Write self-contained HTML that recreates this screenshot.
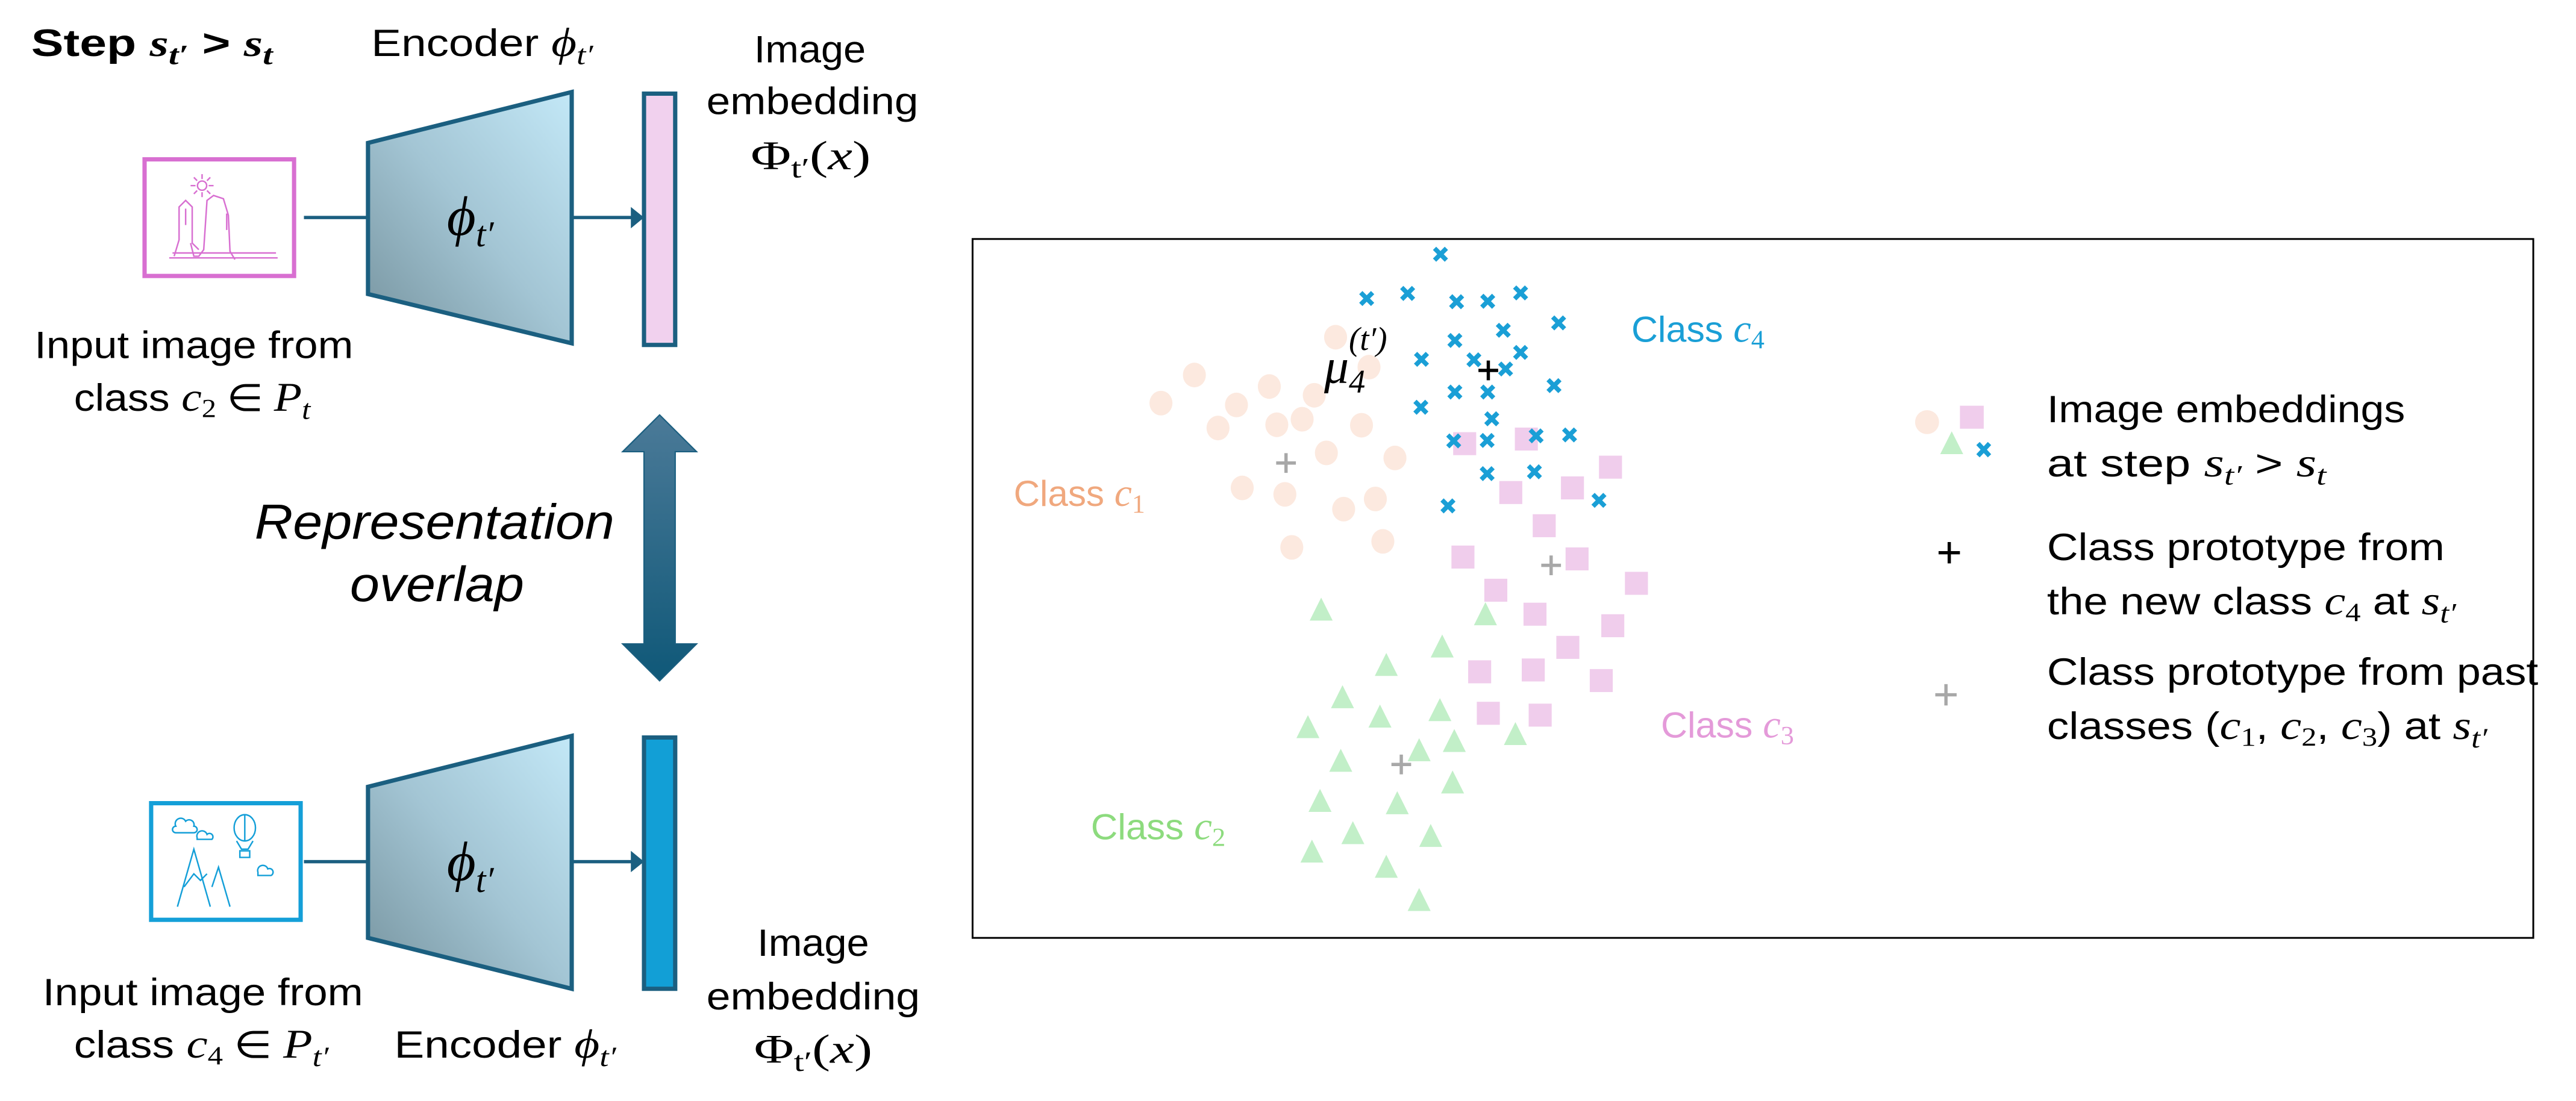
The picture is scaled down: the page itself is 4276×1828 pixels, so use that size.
<!DOCTYPE html>
<html><head><meta charset="utf-8">
<style>
html,body{margin:0;padding:0;background:#fff;}
svg{display:block;}
text{font-family:"Liberation Sans",sans-serif;}
.m{font-family:"Liberation Serif",serif;font-style:italic;}
.r{font-family:"Liberation Serif",serif;}
</style></head>
<body>
<svg id="fig" width="4276" height="1828" viewBox="0 0 1568 670.3" xmlns="http://www.w3.org/2000/svg">
<defs>
<linearGradient id="enc" x1="0" y1="1" x2="1" y2="0">
<stop offset="0" stop-color="#76939e"/><stop offset="0.5" stop-color="#a3c5d4"/><stop offset="1" stop-color="#c3e8f7"/>
</linearGradient>
<linearGradient id="darr" x1="0" y1="0" x2="0" y2="1">
<stop offset="0" stop-color="#4b7a98"/><stop offset="1" stop-color="#0f5878"/>
</linearGradient>
</defs>

<!-- ===== Top row ===== -->
<text x="19" y="34" font-size="23" font-weight="bold" textLength="147" lengthAdjust="spacingAndGlyphs">Step <tspan class="m">s</tspan><tspan class="m" font-size="17" dy="5">t′</tspan><tspan dy="-5"> &gt; </tspan><tspan class="m">s</tspan><tspan class="m" font-size="17" dy="5">t</tspan></text>
<text x="226" y="34" font-size="23" textLength="135" lengthAdjust="spacingAndGlyphs">Encoder <tspan class="m" font-size="25">ϕ</tspan><tspan class="m" font-size="17" dy="5">t′</tspan></text>
<g font-size="23">
<text x="459" y="38" textLength="68" lengthAdjust="spacingAndGlyphs">Image</text>
<text x="430" y="69.5" textLength="129" lengthAdjust="spacingAndGlyphs">embedding</text>
<text x="457" y="103" textLength="73" lengthAdjust="spacingAndGlyphs"><tspan class="r" font-size="25">Φ</tspan><tspan class="r" font-size="17" dy="5">t′</tspan><tspan class="r" font-size="25" dy="-5">(</tspan><tspan class="m" font-size="25">x</tspan><tspan class="r" font-size="25">)</tspan></text>
</g>

<g>
<rect x="88" y="97" width="91" height="71" fill="#fff" stroke="#d86fd1" stroke-width="2.6"/>
<g fill="none" stroke="#d86fd1" stroke-width="0.9">
<circle cx="123" cy="113" r="2.8"/>
<path d="M123 106v3M123 117v3M116 113h3M127 113h3M118 108l2 2M126 116l2 2M118 118l2-2M126 110l2-2"/>
<path d="M106 156l3-10v-20l4-4 4 4v22l4 4M116 148l2 8h3l3-4 2-30 4-3 6 2 3 10 1 22 3 5"/>
<path d="M103 157h66M105 154h63M113 127v10M138 130v10"/>
</g>
</g>
<line x1="185" y1="132.4" x2="224" y2="132.4" stroke="#1b5f80" stroke-width="2"/>
<polygon points="224,87 348,56 348,209 224,179" fill="url(#enc)" stroke="#1b5f80" stroke-width="2.6"/>
<text x="272" y="143" font-size="34"><tspan class="m">ϕ</tspan><tspan class="m" font-size="22" dy="7">t′</tspan></text>
<line x1="348" y1="132.4" x2="386" y2="132.4" stroke="#1b5f80" stroke-width="2"/>
<polygon points="384,126 392,132.4 384,139" fill="#1b5f80"/>
<rect x="392" y="57" width="19" height="153" fill="#f1d1ee" stroke="#1b5f80" stroke-width="2.6"/>

<text x="21" y="218" font-size="23" textLength="194" lengthAdjust="spacingAndGlyphs">Input image from</text>
<text x="45" y="250" font-size="23" textLength="144" lengthAdjust="spacingAndGlyphs">class <tspan class="m" font-size="25">c</tspan><tspan class="r" font-size="16" dy="4">2</tspan><tspan class="r" dy="-4"> ∈ </tspan><tspan class="m" font-size="25">P</tspan><tspan class="m" font-size="17" dy="5">t</tspan></text>

<!-- ===== Double arrow ===== -->
<polygon points="401.5,252.6 424,275 411,275 411,392 424,392 401.5,414.5 379,392 392,392 392,275 379,275" fill="url(#darr)" stroke="#1b5f80" stroke-width="0.8"/>
<text x="155" y="328" font-size="30" font-style="italic" textLength="219" lengthAdjust="spacingAndGlyphs">Representation</text>
<text x="213" y="366" font-size="30" font-style="italic" textLength="106" lengthAdjust="spacingAndGlyphs">overlap</text>

<!-- ===== Bottom row ===== -->
<g>
<rect x="92" y="489" width="91" height="71" fill="#fff" stroke="#149fd8" stroke-width="2.6"/>
<g fill="none" stroke="#149fd8" stroke-width="0.9">
<path d="M108 552l10-35 10 35M112 540l6-8 4 4 4-4M140 552l-7-24-4 12"/>
<ellipse cx="149" cy="504" rx="6.5" ry="8"/>
<path d="M149 496v16M144 512l3 5h4l3-5M146 518h6v4h-6z"/>
<path d="M107 503a3 3 0 0 1 6-3 3 3 0 0 1 5 3 2 2 0 0 1 0 4h-11a2 2 0 0 1 0-4z"/>
<path d="M120 510a3 3 0 0 1 6-2 2 2 0 0 1 3 3h-9z"/>
<path d="M157 531a3 3 0 0 1 6-2 2 2 0 0 1 2 4h-8z"/>
</g>
</g>
<line x1="185" y1="524.6" x2="224" y2="524.6" stroke="#1b5f80" stroke-width="2"/>
<polygon points="224,479 348,448 348,602 224,571" fill="url(#enc)" stroke="#1b5f80" stroke-width="2.6"/>
<text x="272" y="536" font-size="34"><tspan class="m">ϕ</tspan><tspan class="m" font-size="22" dy="7">t′</tspan></text>
<line x1="348" y1="524.6" x2="386" y2="524.6" stroke="#1b5f80" stroke-width="2"/>
<polygon points="384,518 392,524.6 384,531" fill="#1b5f80"/>
<rect x="392" y="449" width="19" height="153" fill="#129fd6" stroke="#1b5f80" stroke-width="2.6"/>

<text x="26" y="612" font-size="23" textLength="195" lengthAdjust="spacingAndGlyphs">Input image from</text>
<text x="45" y="644" font-size="23" textLength="155" lengthAdjust="spacingAndGlyphs">class <tspan class="m" font-size="25">c</tspan><tspan class="r" font-size="16" dy="4">4</tspan><tspan class="r" dy="-4"> ∈ </tspan><tspan class="m" font-size="25">P</tspan><tspan class="m" font-size="17" dy="5">t′</tspan></text>
<text x="240" y="644" font-size="23" textLength="135" lengthAdjust="spacingAndGlyphs">Encoder <tspan class="m" font-size="25">ϕ</tspan><tspan class="m" font-size="17" dy="5">t′</tspan></text>
<g font-size="23">
<text x="461" y="582" textLength="68" lengthAdjust="spacingAndGlyphs">Image</text>
<text x="430" y="614.5" textLength="130" lengthAdjust="spacingAndGlyphs">embedding</text>
<text x="459" y="647" textLength="72" lengthAdjust="spacingAndGlyphs"><tspan class="r" font-size="25">Φ</tspan><tspan class="r" font-size="17" dy="5">t′</tspan><tspan class="r" font-size="25" dy="-5">(</tspan><tspan class="m" font-size="25">x</tspan><tspan class="r" font-size="25">)</tspan></text>
</g>

<!-- ===== Scatter plot ===== -->
<rect x="592" y="145.5" width="950" height="425.5" fill="#fff" stroke="#000" stroke-width="1.1"/>
<g id="marks"></g>
<text x="617" y="308" font-size="22" fill="#f0a87e" textLength="80" lengthAdjust="spacingAndGlyphs">Class <tspan class="m" font-size="24">c</tspan><tspan class="r" font-size="16" dy="4">1</tspan></text>
<text x="664" y="511" font-size="22" fill="#8ddb7e" textLength="82" lengthAdjust="spacingAndGlyphs">Class <tspan class="m" font-size="24">c</tspan><tspan class="r" font-size="16" dy="4">2</tspan></text>
<text x="1011" y="449" font-size="22" fill="#e49ad9" textLength="81" lengthAdjust="spacingAndGlyphs">Class <tspan class="m" font-size="24">c</tspan><tspan class="r" font-size="16" dy="4">3</tspan></text>
<text x="993" y="208" font-size="22" fill="#1a9fd6" textLength="81" lengthAdjust="spacingAndGlyphs">Class <tspan class="m" font-size="24">c</tspan><tspan class="r" font-size="16" dy="4">4</tspan></text>
<text x="806" y="233" font-size="30" class="m">μ<tspan class="r" font-size="20" dy="6">4</tspan><tspan class="r" font-size="20" dx="-10" dy="-26">(</tspan><tspan class="m" font-size="20">t′</tspan><tspan class="r" font-size="20">)</tspan></text>

<!-- ===== Legend ===== -->
<g>
<ellipse cx="1173" cy="257" rx="7.3" ry="7.3" fill="#fce9df"/>
<rect x="1193" y="247" width="14.5" height="14" fill="#f0cdec"/>
<polygon points="1188,262.6 1195,276.5 1181,276.5" fill="#c2efc8"/>
<g stroke="#1a9fd6" stroke-width="2.8"><line x1="1204" y1="270" x2="1211" y2="277.5"/><line x1="1211" y1="270" x2="1204" y2="277.5"/></g>
<g stroke="#000" stroke-width="2"><line x1="1180" y1="336.5" x2="1193" y2="336.5"/><line x1="1186.5" y1="330" x2="1186.5" y2="343"/></g>
<g stroke="#a8a8a8" stroke-width="2"><line x1="1178" y1="423" x2="1191" y2="423"/><line x1="1184.5" y1="416.5" x2="1184.5" y2="429.5"/></g>
<g font-size="23">
<text x="1246" y="257" textLength="218" lengthAdjust="spacingAndGlyphs">Image embeddings</text>
<text x="1246" y="290" textLength="170" lengthAdjust="spacingAndGlyphs">at step <tspan class="m" font-size="25">s</tspan><tspan class="m" font-size="17" dy="5">t′</tspan><tspan dy="-5"> &gt; </tspan><tspan class="m" font-size="25">s</tspan><tspan class="m" font-size="17" dy="5">t</tspan></text>
<text x="1246" y="341" textLength="242" lengthAdjust="spacingAndGlyphs">Class prototype from</text>
<text x="1246" y="374" textLength="249" lengthAdjust="spacingAndGlyphs">the new class <tspan class="m" font-size="25">c</tspan><tspan class="r" font-size="16" dy="4">4</tspan><tspan dy="-4"> at </tspan><tspan class="m" font-size="25">s</tspan><tspan class="m" font-size="17" dy="5">t′</tspan></text>
<text x="1246" y="417" textLength="299" lengthAdjust="spacingAndGlyphs">Class prototype from past</text>
<text x="1246" y="450" textLength="268" lengthAdjust="spacingAndGlyphs">classes (<tspan class="m" font-size="25">c</tspan><tspan class="r" font-size="16" dy="4">1</tspan><tspan dy="-4">, </tspan><tspan class="m" font-size="25">c</tspan><tspan class="r" font-size="16" dy="4">2</tspan><tspan dy="-4">, </tspan><tspan class="m" font-size="25">c</tspan><tspan class="r" font-size="16" dy="4">3</tspan><tspan dy="-4">) at </tspan><tspan class="m" font-size="25">s</tspan><tspan class="m" font-size="17" dy="5">t′</tspan></text>
</g>
</g>
</svg>

<script>
// Embedding coordinates (plot units)
const c1X = [645,703,400,530,608,342,473,441,543,587,690,629,748,483,557,659,714,569,727];
const c1Y = [235,300,317,342,361,378,382,432,425,413,426,486,497,562,576,608,586,691,678];
const c2X = [620,905,830,733,657,722,826,597,851,957,790,654,848,618,752,675,810,604,733,790];
const c2Y = [825,835,905,945,1015,1057,1043,1080,1110,1095,1130,1153,1200,1240,1245,1310,1316,1350,1383,1455];
const c3X = [869,976,1122,949,1056,1007,866,1064,1167,923,991,1126,1048,895,988,1106,910,1000];
const c3Y = [466,456,517,572,562,644,712,716,769,784,836,861,908,961,957,980,1051,1055];
const c4X = [827,699,770,855,909,966,1032,936,852,966,794,885,940,1024,852,909,793,916,993,1051,850,908,908,990,1102,840];
const c4Y = [55,151,140,158,157,139,204,220,242,268,283,284,304,340,354,354,387,412,449,447,460,459,531,527,589,601];
const pastProtoX = [559,759,1019];
const pastProtoY = [508,1162,730];
const newProtoX = [910];
const newProtoY = [307];

const NS = "http://www.w3.org/2000/svg";
function xScale(v){ return 586.7 + v*0.3508; }
function yScale(v){ return 139.35 + v*0.2806; }
const g = document.getElementById('marks');
function mk(tag, attrs){ const e=document.createElementNS(NS,tag); for(const k in attrs) e.setAttribute(k,attrs[k]); g.appendChild(e); return e; }

c1X.forEach((v,i)=>{
  const e = mk('ellipse',{cx:xScale(v),cy:yScale(c1Y[i]),rx:7,ry:7.5,fill:'#fce9df'});
  
  
});
c3X.forEach((v,i)=>{
  const x=xScale(v), y=yScale(c3Y[i]);
  const e = mk('rect',{x:x-7,y:y-7,width:14,height:14,fill:'#f0cdec'});
  
  
});
c2X.forEach((v,i)=>{
  const x=xScale(v), y=yScale(c2Y[i]);
  const e = mk('polygon',{points:`${x},${y-7} ${x+7},${y+7} ${x-7},${y+7}`,fill:'#c2efc8'});
  
  
});
c4X.forEach((v,i)=>{
  const x=xScale(v), y=yScale(c4Y[i]), d=3.6;
  const e = mk('path',{d:`M${x-d} ${y-d}L${x+d} ${y+d}M${x+d} ${y-d}L${x-d} ${y+d}`,stroke:'#1a9fd6','stroke-width':2.8,fill:'none'});
  
  
});
pastProtoX.forEach((v,i)=>{
  const x=xScale(v), y=yScale(pastProtoY[i]), d=6;
  const e = mk('path',{d:`M${x-d} ${y}H${x+d}M${x} ${y-d}V${y+d}`,stroke:'#a8a8a8','stroke-width':2,fill:'none'});
  
  
});
newProtoX.forEach((v,i)=>{
  const x=xScale(v), y=yScale(newProtoY[i]), d=6;
  const e = mk('path',{d:`M${x-d} ${y}H${x+d}M${x} ${y-d}V${y+d}`,stroke:'#000','stroke-width':2,fill:'none'});
  
  
});
</script>
</body></html>
